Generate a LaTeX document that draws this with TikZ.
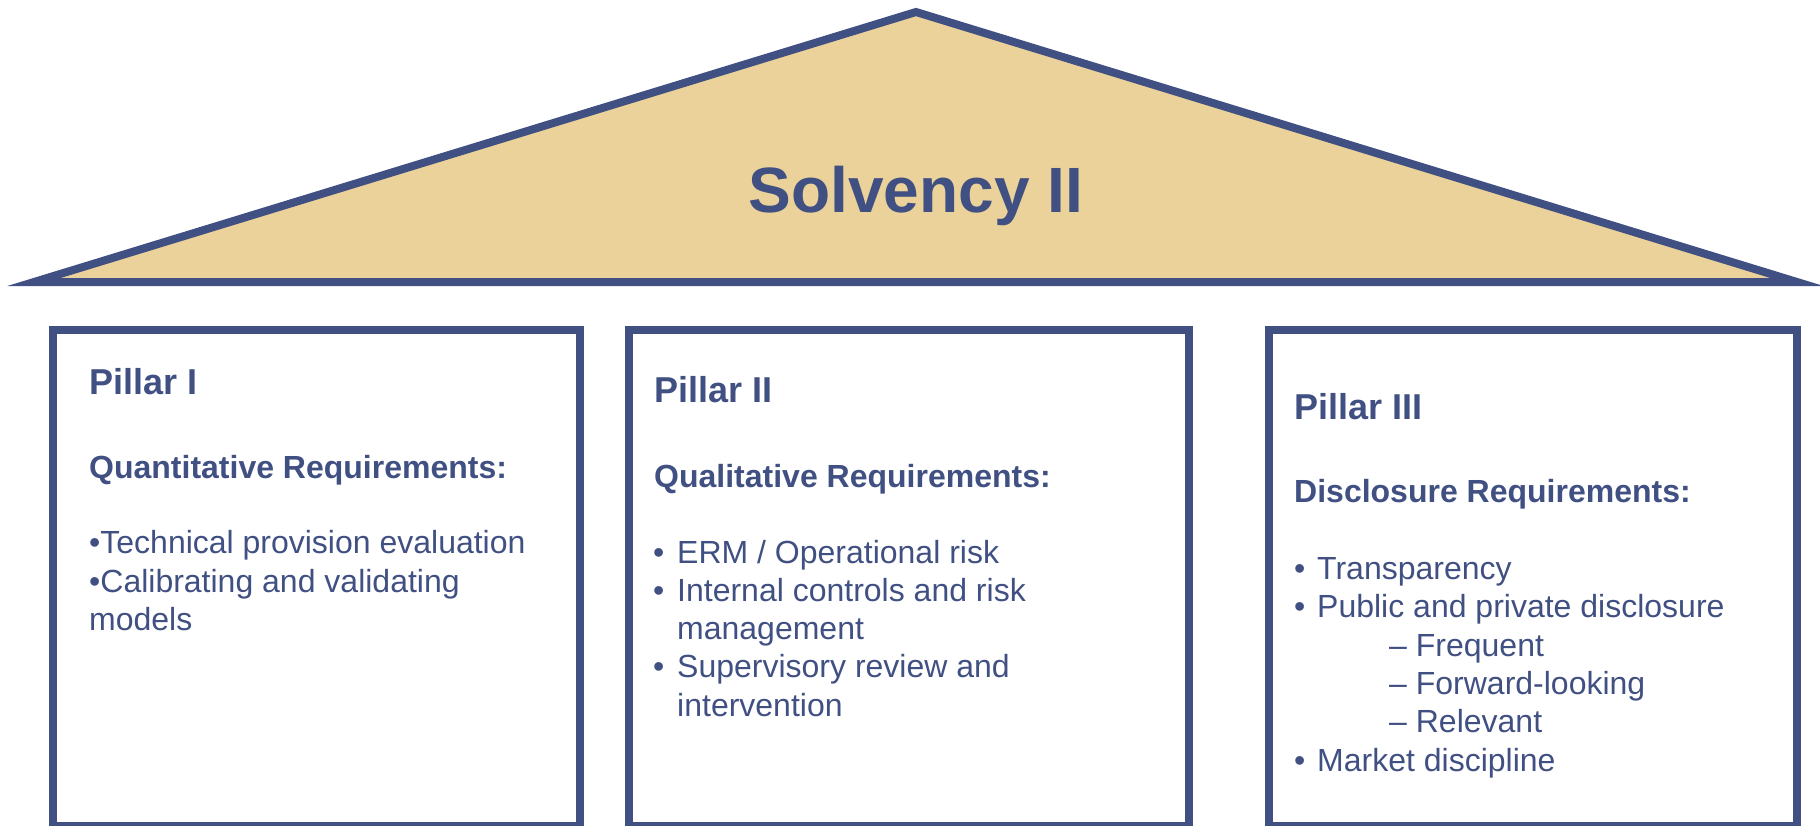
\documentclass[tikz,border=0pt]{standalone}
\usepackage{fontspec}
\setmainfont{Liberation Sans}
\definecolor{sblue}{RGB}{65,80,130}
\definecolor{stan}{RGB}{234,210,154}
\begin{document}
\begin{tikzpicture}[x=1pt,y=-1pt,
  outline/.style={draw=sblue,line width=8pt},
  txt/.style={anchor=base west,inner sep=0pt,text=sblue,font=\fontsize{32}{38}\selectfont},
  hd/.style={txt,font=\fontsize{36}{43}\selectfont\bfseries},
  subhd/.style={txt,font=\fontsize{32}{38}\selectfont\bfseries}]
\useasboundingbox (0,0) rectangle (1820,825);
% roof
\draw[outline,fill=stan,line join=miter] (34,282) -- (916,12) -- (1797,282) -- cycle;
\node[anchor=base,inner sep=0pt,text=sblue,font=\fontsize{64}{70}\selectfont\bfseries] (title) at (916,212) {Solvency II};
% pillars
\draw[outline] (52.5,330) rectangle (580,826);
\draw[outline] (629,330) rectangle (1189,826);
\draw[outline] (1269,330) rectangle (1797,826);
% Pillar I
\node[hd] (p1) at (89,394) {Pillar I};
\node[subhd] (p1s) at (89,478) {Quantitative Requirements:};
\node[txt] (p1a) at (89,553) {•Technical provision evaluation};
\node[txt] (p1b) at (89,592) {•Calibrating and validating};
\node[txt] (p1c) at (89,630) {models};
% Pillar II
\node[hd] (p2) at (654,402) {Pillar II};
\node[subhd] (p2s) at (654,487) {Qualitative Requirements:};
\node[txt] (p2ab) at (653,563) {•};
\node[txt] (p2a) at (677,563) {ERM / Operational risk};
\node[txt] (p2bb) at (653,601) {•};
\node[txt] (p2b) at (677,601) {Internal controls and risk};
\node[txt] (p2b2) at (677,639) {management};
\node[txt] (p2cb) at (653,677) {•};
\node[txt] (p2c) at (677,677) {Supervisory review and};
\node[txt] (p2c2) at (677,716) {intervention};
% Pillar III
\node[hd] (p3) at (1294,419) {Pillar III};
\node[subhd] (p3s) at (1294,502) {Disclosure Requirements:};
\node[txt] (p3ab) at (1294,579) {•};
\node[txt] (p3a) at (1317,579) {Transparency};
\node[txt] (p3bb) at (1294,617) {•};
\node[txt] (p3b) at (1317,617) {Public and private disclosure};
\node[txt] (p3b1) at (1389,656) {– Frequent};
\node[txt] (p3b2) at (1389,694) {– Forward-looking};
\node[txt] (p3b3) at (1389,732) {– Relevant};
\node[txt] (p3cb) at (1294,771) {•};
\node[txt] (p3c) at (1317,771) {Market discipline};
\end{tikzpicture}
\end{document}
